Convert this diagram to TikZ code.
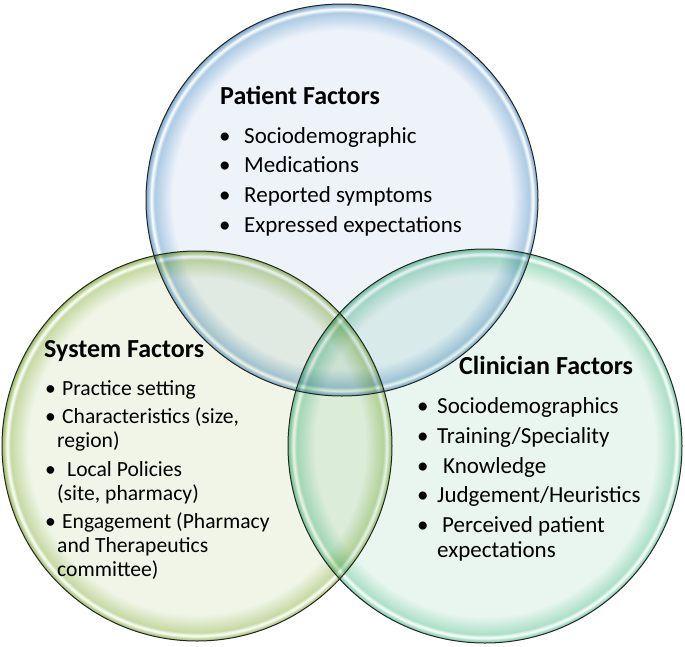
\documentclass[tikz,border=0pt]{standalone}
\usepackage{fontspec}
\setmainfont{Carlito}
\definecolor{pIn}{HTML}{EEF3FA}
\definecolor{pRim}{HTML}{ADCBE4}
\definecolor{pDark}{HTML}{7AA5CB}
\definecolor{sIn}{HTML}{F0F5E7}
\definecolor{sRim}{HTML}{C6DAA4}
\definecolor{sDark}{HTML}{98BA66}
\definecolor{cIn}{HTML}{E9F6F0}
\definecolor{cRim}{HTML}{ADE0C8}
\definecolor{cDark}{HTML}{76C6A0}
\pgfdeclareradialshading{pball}{\pgfpoint{0bp}{0bp}}{color(0bp)=(pIn); color(21.6bp)=(pIn); color(23.9bp)=(pRim); color(24.35bp)=(white); color(24.65bp)=(pRim); color(25bp)=(pDark); color(50bp)=(pDark)}
\pgfdeclareradialshading{sball}{\pgfpoint{0bp}{0bp}}{color(0bp)=(sIn); color(21.6bp)=(sIn); color(23.9bp)=(sRim); color(24.35bp)=(white); color(24.65bp)=(sRim); color(25bp)=(sDark); color(50bp)=(sDark)}
\pgfdeclareradialshading{cball}{\pgfpoint{0bp}{0bp}}{color(0bp)=(cIn); color(21.6bp)=(cIn); color(23.9bp)=(cRim); color(24.35bp)=(white); color(24.65bp)=(cRim); color(25bp)=(cDark); color(50bp)=(cDark)}
\begin{document}
\begin{tikzpicture}[x=1pt,y=-1pt,
  ring/.style={draw=black!85, line width=1pt},
  head/.style={font=\fontsize{26}{30}\selectfont\bfseries, anchor=base west, inner sep=0pt},
  itemA/.style={font=\fontsize{23}{28}\selectfont, anchor=base west, inner sep=0pt},
  itemB/.style={font=\fontsize{21.6}{26}\selectfont, anchor=base west, inner sep=0pt},
  dotA/.style={font=\fontsize{23}{28}\selectfont, anchor=base west, inner sep=0pt},
  dotB/.style={font=\fontsize{21.6}{26}\selectfont, anchor=base west, inner sep=0pt}]
\useasboundingbox[fill=white] (0,0) rectangle (685,646);
% circles
\coordinate (cP) at (342,200);
\coordinate (cS) at (197,446);
\coordinate (cC) at (485,446);
\shade[shading=sball, blend mode=multiply] (cS) circle[radius=195pt];
\shade[shading=pball, blend mode=multiply] (cP) circle[radius=196pt];
\shade[shading=cball, blend mode=multiply] (cC) circle[radius=197pt];
\draw[ring] (cS) circle[radius=195pt];
\draw[ring] (cP) circle[radius=196pt];
\draw[ring] (cC) circle[radius=197pt];
% Patient
\node[head] (ph) at (220,104) {Patient Factors};
\node[dotA] (pb1) at (219,143) {•};
\node[itemA] (p1) at (244,143) {Sociodemographic};
\node[dotA] (pb2) at (219,172) {•};
\node[itemA] (p2) at (244,172) {Medications};
\node[dotA] (pb3) at (219,202) {•};
\node[itemA] (p3) at (244,202) {Reported symptoms};
\node[dotA] (pb4) at (219,232) {•};
\node[itemA] (p4) at (244,232) {Expressed expectations};
% System
\node[head] (sh) at (44,357) {System Factors};
\node[dotB] (sb1) at (45,395) {•};
\node[itemB] (s1) at (62,395) {Practice setting};
\node[dotB] (sb2) at (45,423) {•};
\node[itemB] (s2) at (62,423) {Characteristics (size,};
\node[itemB] (s2b) at (57,447) {region)};
\node[dotB] (sb3) at (45,476) {•};
\node[itemB] (s3) at (67,476) {Local Policies};
\node[itemB] (s3b) at (57,500) {(site, pharmacy)};
\node[dotB] (sb4) at (45,528) {•};
\node[itemB] (s4) at (62,528) {Engagement (Pharmacy};
\node[itemB] (s4b) at (57,552) {and Therapeutics};
\node[itemB] (s4c) at (57,576) {committee)};
% Clinician
\node[head] (ch) at (459,374) {Clinician Factors};
\node[dotA] (cb1) at (417,413) {•};
\node[itemA] (c1) at (437,413) {Sociodemographics};
\node[dotA] (cb2) at (417,443) {•};
\node[itemA] (c2) at (437,443) {Training/Speciality};
\node[dotA] (cb3) at (417,473) {•};
\node[itemA] (c3) at (443,473) {Knowledge};
\node[dotA] (cb4) at (417,502) {•};
\node[itemA] (c4) at (437,502) {Judgement/Heuristics};
\node[dotA] (cb5) at (417,532) {•};
\node[itemA] (c5) at (442,532) {Perceived patient};
\node[itemA] (c5b) at (437,557) {expectations};
\end{tikzpicture}
\end{document}
